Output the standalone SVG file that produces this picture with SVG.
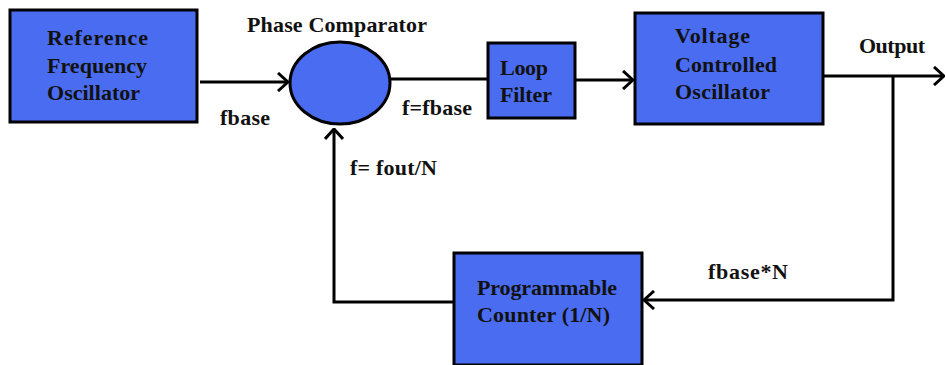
<svg xmlns="http://www.w3.org/2000/svg" width="946" height="365" viewBox="0 0 946 365">
<style>
.box{fill:#4a6cf0;stroke:#000;stroke-width:3}
.t{font-family:"Liberation Serif","Times New Roman",serif;font-weight:bold;font-size:22px;fill:#111}
.w{fill:none;stroke:#000;stroke-width:3}
</style>
<defs>
<marker id="ah" viewBox="0 0 12 20" refX="11" refY="10" markerWidth="12" markerHeight="20" markerUnits="userSpaceOnUse" orient="auto">
<path d="M1,1 L11,10 L1,19" fill="none" stroke="#000" stroke-width="3"/>
</marker>
</defs>
<rect width="946" height="365" fill="#fff"/>
<g id="connectors">
<path class="w" d="M200,82 H288" marker-end="url(#ah)"/>
<path class="w" d="M390,79 H488"/>
<path class="w" d="M575,80 H633" marker-end="url(#ah)"/>
<path class="w" d="M823,76 H944" marker-end="url(#ah)"/>
<path class="w" d="M893,76 V300 H644" marker-end="url(#ah)"/>
<path class="w" d="M454,302 H334 V129" marker-end="url(#ah)"/>
</g>
<g id="ref-osc">
<rect class="box" x="10" y="10" width="187" height="112"/>
<text class="t" x="47" y="45" textLength="101">Reference</text>
<text class="t" x="47" y="73" textLength="100">Frequency</text>
<text class="t" x="47" y="100" textLength="93">Oscillator</text>
</g>
<g id="phase-comparator">
<ellipse class="box" cx="340" cy="83" rx="50" ry="41"/>
<text class="t" x="247" y="32" textLength="180">Phase Comparator</text>
</g>
<g id="loop-filter">
<rect class="box" x="488" y="43" width="87" height="75"/>
<text class="t" x="500" y="75" textLength="48">Loop</text>
<text class="t" x="500" y="102" textLength="52">Filter</text>
</g>
<g id="vco">
<rect class="box" x="635" y="13" width="188" height="111"/>
<text class="t" x="675" y="43" textLength="75">Voltage</text>
<text class="t" x="675" y="72" textLength="102">Controlled</text>
<text class="t" x="675" y="99" textLength="95">Oscillator</text>
</g>
<g id="counter">
<rect class="box" x="454" y="253" width="188" height="112"/>
<text class="t" x="477" y="295" textLength="140">Programmable</text>
<text class="t" x="477" y="322" textLength="133">Counter (1/N)</text>
</g>
<g id="labels">
<text class="t" x="220" y="125" textLength="50">fbase</text>
<text class="t" x="402" y="115" textLength="70">f=fbase</text>
<text class="t" x="859" y="53" textLength="66">Output</text>
<text class="t" x="350" y="175" textLength="87">f= fout/N</text>
<text class="t" x="708" y="279" textLength="80">fbase*N</text>
</g>
</svg>
